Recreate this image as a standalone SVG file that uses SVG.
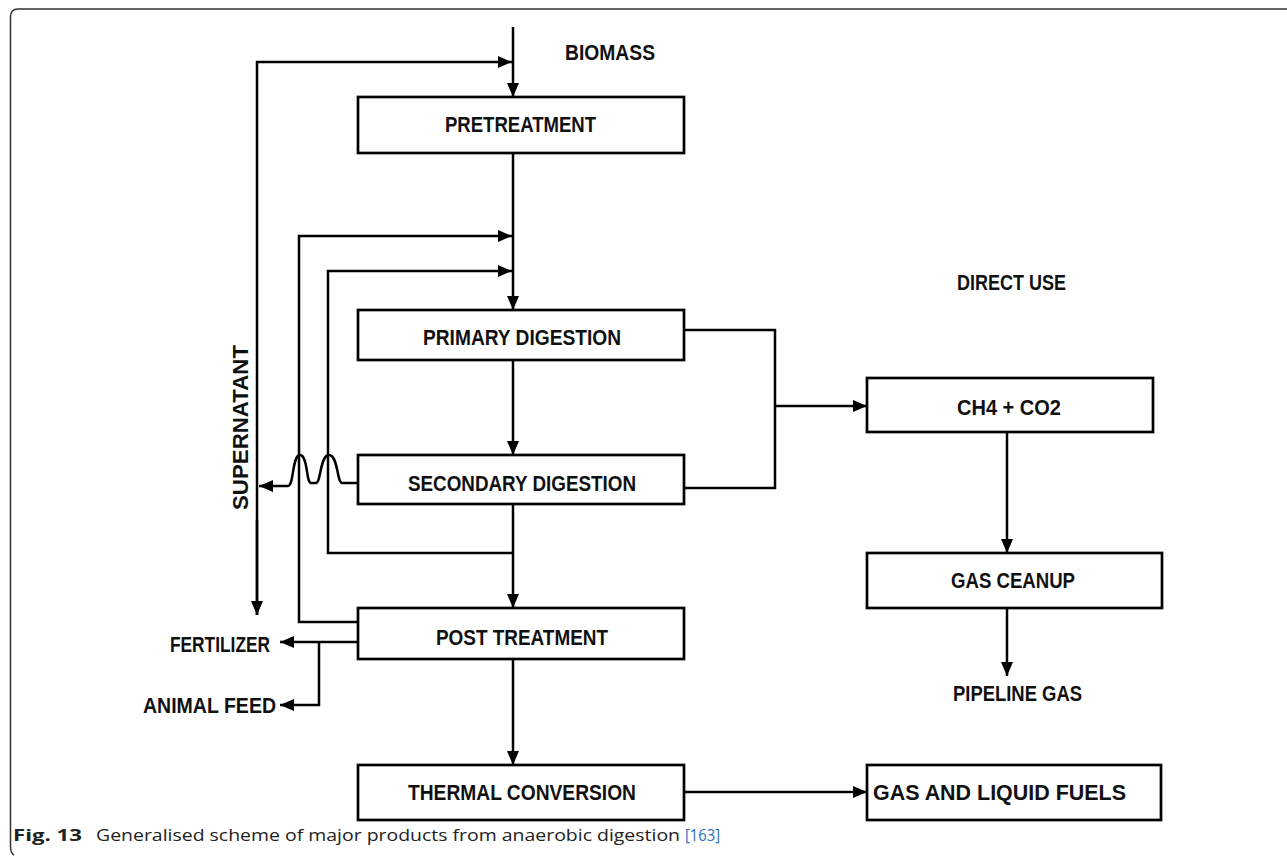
<svg xmlns="http://www.w3.org/2000/svg" width="1287" height="856" viewBox="0 0 1287 856">
<style>
.box{fill:#fff;stroke:#000;stroke-width:2.7}
.ln{fill:none;stroke:#000;stroke-width:2.5}
.lbl{font-family:"Liberation Sans",Arial,sans-serif;font-weight:bold;font-size:22px;fill:#111}
.cap{font-family:"Open Sans","Noto Sans","Liberation Sans",sans-serif;font-size:16px;fill:#222}
</style>
<defs>
<marker id="ah" viewBox="0 0 14 12" refX="14" refY="6" markerWidth="14" markerHeight="12" markerUnits="userSpaceOnUse" orient="auto">
<path d="M0,0 L14,6 L0,12 z" fill="#000"/>
</marker>
</defs>
<rect width="1287" height="856" fill="#fff"/>
<path d="M1287,9 H18 Q10.5,9 10.5,17 V846 Q10.5,853 14,855" fill="none" stroke="#333" stroke-width="1.5"/>

<g id="connectors">
<line class="ln" x1="513" y1="27" x2="513" y2="97" marker-end="url(#ah)"/>
<polyline class="ln" points="257,615 257,62 512,62" marker-end="url(#ah)"/>
<line class="ln" x1="513" y1="153" x2="513" y2="310" marker-end="url(#ah)"/>
<polyline class="ln" points="358,622 299,622 299,236 512,236" marker-end="url(#ah)"/>
<polyline class="ln" points="513,553 328,553 328,271 512,271" marker-end="url(#ah)"/>
<line class="ln" x1="257" y1="520" x2="257" y2="615" marker-end="url(#ah)"/>
<line class="ln" x1="513" y1="360" x2="513" y2="455" marker-end="url(#ah)"/>
<line class="ln" x1="513" y1="504" x2="513" y2="608" marker-end="url(#ah)"/>
<line class="ln" x1="513" y1="659" x2="513" y2="765" marker-end="url(#ah)"/>
<path class="ln" d="M358,483 H342 C337,483 338,455 329,455 C320,455 321,483 316,483 H311 C306,483 308,455 300,455 C292,455 294,486 288,486 H259" stroke-width="2.8" marker-end="url(#ah)"/>
<line class="ln" x1="358" y1="642" x2="280" y2="642" marker-end="url(#ah)"/>
<polyline class="ln" points="319,642 319,705 280,705" marker-end="url(#ah)"/>
<polyline class="ln" points="684,330 775,330 775,488 684,488"/>
<line class="ln" x1="775" y1="406" x2="867" y2="406" marker-end="url(#ah)"/>
<line class="ln" x1="1007" y1="432" x2="1007" y2="553" marker-end="url(#ah)"/>
<line class="ln" x1="1007" y1="608" x2="1007" y2="676" marker-end="url(#ah)"/>
<line class="ln" x1="684" y1="792" x2="867" y2="792" stroke-width="3" marker-end="url(#ah)"/>
</g>

<g id="biomass"><text class="lbl" x="565" y="60" textLength="90" lengthAdjust="spacingAndGlyphs">BIOMASS</text></g>
<g id="pretreatment"><rect class="box" x="358" y="97" width="326" height="56"/><text class="lbl" x="445" y="132" textLength="151" lengthAdjust="spacingAndGlyphs">PRETREATMENT</text></g>
<g id="primary"><rect class="box" x="358" y="310" width="326" height="50"/><text class="lbl" x="423" y="345" textLength="198" lengthAdjust="spacingAndGlyphs">PRIMARY DIGESTION</text></g>
<g id="secondary"><rect class="box" x="358" y="455" width="326" height="49"/><text class="lbl" x="408" y="491" textLength="228" lengthAdjust="spacingAndGlyphs">SECONDARY DIGESTION</text></g>
<g id="post"><rect class="box" x="358" y="608" width="326" height="51"/><text class="lbl" x="436" y="645" textLength="172" lengthAdjust="spacingAndGlyphs">POST TREATMENT</text></g>
<g id="thermal"><rect class="box" x="358" y="765" width="326" height="55"/><text class="lbl" x="408" y="800" textLength="228" lengthAdjust="spacingAndGlyphs">THERMAL CONVERSION</text></g>
<g id="fuels"><rect class="box" x="867" y="765" width="294" height="55"/><text class="lbl" x="873" y="800" textLength="253" lengthAdjust="spacingAndGlyphs">GAS AND LIQUID FUELS</text></g>
<g id="ch4"><rect class="box" x="867" y="378" width="286" height="54"/><text class="lbl" x="957" y="415" textLength="104" lengthAdjust="spacingAndGlyphs">CH4 + CO2</text></g>
<g id="cleanup"><rect class="box" x="867" y="553" width="295" height="55"/><text class="lbl" x="951" y="588" textLength="124" lengthAdjust="spacingAndGlyphs">GAS CEANUP</text></g>
<g id="directuse"><text class="lbl" x="957" y="290" textLength="109" lengthAdjust="spacingAndGlyphs">DIRECT USE</text></g>
<g id="pipeline"><text class="lbl" x="953" y="701" textLength="129" lengthAdjust="spacingAndGlyphs">PIPELINE GAS</text></g>
<g id="supernatant"><text class="lbl" transform="translate(248,510) rotate(-90)" x="0" y="0" textLength="165" lengthAdjust="spacingAndGlyphs">SUPERNATANT</text></g>
<g id="fertilizer"><text class="lbl" x="170" y="652" textLength="100" lengthAdjust="spacingAndGlyphs">FERTILIZER</text></g>
<g id="animalfeed"><text class="lbl" x="143" y="713" textLength="133" lengthAdjust="spacingAndGlyphs">ANIMAL FEED</text></g>

<text class="cap" y="841"><tspan x="13" font-weight="bold" textLength="69" lengthAdjust="spacingAndGlyphs">Fig. 13</tspan><tspan x="96" textLength="584" lengthAdjust="spacingAndGlyphs">Generalised scheme of major products from anaerobic digestion</tspan><tspan x="685" fill="#2b6cc4" textLength="35" lengthAdjust="spacingAndGlyphs">[163]</tspan></text>
</svg>
